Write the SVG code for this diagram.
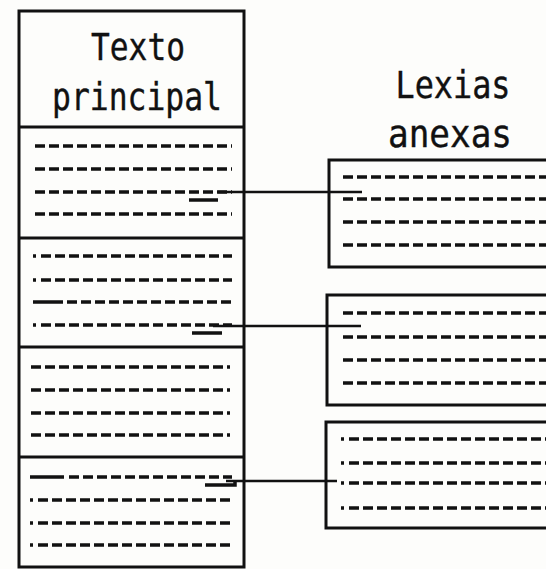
<svg xmlns="http://www.w3.org/2000/svg" width="546" height="569" viewBox="0 0 546 569">
<style>
.box{fill:none;stroke:#111;stroke-width:3}
.dash{stroke:#111;stroke-width:3.5;stroke-dasharray:10 4;fill:none}
.solid{stroke:#111;stroke-width:3.5;fill:none}
.conn{stroke:#111;stroke-width:2.5;fill:none}
.lbl{font-family:"DejaVu Sans Mono","Liberation Mono",monospace;font-size:37px;fill:#111;stroke:#111;stroke-width:0.4}
</style>
<rect width="546" height="569" fill="#fdfdfb"/>
<g id="texto-principal">
  <rect class="box" x="19" y="11" width="225" height="556"/>
  <line class="box" x1="19" y1="127" x2="244" y2="127"/>
  <line class="box" x1="19" y1="238" x2="244" y2="238"/>
  <line class="box" x1="19" y1="347" x2="244" y2="347"/>
  <line class="box" x1="19" y1="457" x2="244" y2="457"/>
  <text class="lbl" x="138" y="60" text-anchor="middle" textLength="94" lengthAdjust="spacingAndGlyphs">Texto</text>
  <text class="lbl" x="137" y="110" text-anchor="middle" textLength="170" lengthAdjust="spacingAndGlyphs">principal</text>
  <path class="dash" d="M35 146H232M35 169H232M35 192H232M35 214H232"/>
  <path class="solid" d="M33 256h3M33 280h3M33 325h3M33 302h30"/>
  <path class="dash" d="M41 256H232M41 280H232M67 302H232M41 325H232"/>
  <path class="dash" d="M31 367H230M31 390H230M31 413H230M31 435H230"/>
  <path class="solid" d="M30 477h34M30 500h3M30 523h3M30 545h3"/>
  <path class="dash" d="M69 477H232M38 500H232M38 523H232M38 545H232"/>
</g>
<g id="lexias-anexas">
  <text class="lbl" x="453" y="98" text-anchor="middle" textLength="115" lengthAdjust="spacingAndGlyphs">Lexias</text>
  <text class="lbl" x="450" y="147" text-anchor="middle" textLength="124" lengthAdjust="spacingAndGlyphs">anexas</text>
</g>
<g id="lexia-1">
  <rect class="box" x="329" y="160" width="240" height="107"/>
  <path class="dash" d="M343 177H546M343 199H546M343 222H546M343 245H546"/>
</g>
<g id="lexia-2">
  <rect class="box" x="327" y="295" width="240" height="110"/>
  <path class="dash" d="M343 313H546M343 337H546M343 360H546M343 383H546"/>
</g>
<g id="lexia-3">
  <rect class="box" x="326" y="422" width="240" height="106"/>
  <path class="solid" d="M341 439h3M341 463h3M341 483h3M341 508h3"/>
  <path class="dash" d="M349 439H546M349 463H546M349 483H546M349 508H546"/>
</g>
<g id="connectors">
  <line class="conn" x1="218" y1="192" x2="362" y2="192"/>
  <line class="solid" x1="189" y1="200" x2="218" y2="200"/>
  <line class="conn" x1="213" y1="326" x2="361" y2="326"/>
  <line class="solid" x1="192" y1="333" x2="222" y2="333"/>
  <line class="conn" x1="226" y1="481" x2="337" y2="481"/>
  <path class="solid" d="M205 485H235V480"/>
</g>
</svg>
